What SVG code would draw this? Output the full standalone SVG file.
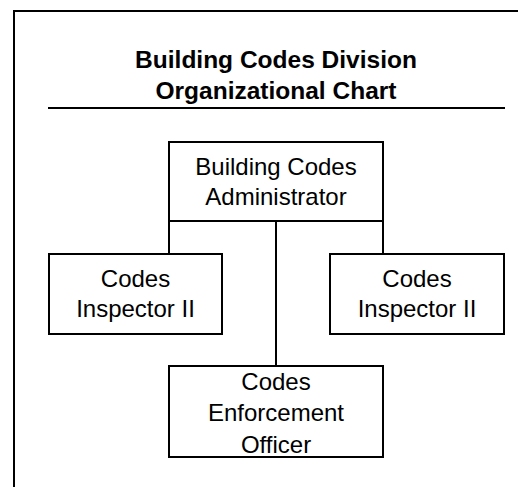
<svg xmlns="http://www.w3.org/2000/svg" width="518" height="487" viewBox="0 0 518 487">
<style>
.box{fill:#fff;stroke:#000;stroke-width:2}
.ln{stroke:#000;stroke-width:2;fill:none}
.t{font-family:"Liberation Sans",Arial,sans-serif;font-size:24px;fill:#000;text-anchor:middle}
.h{font-family:"Liberation Sans",Arial,sans-serif;font-size:24.5px;font-weight:bold;fill:#000;text-anchor:middle}
</style>
<rect width="518" height="487" fill="#fff"/>
<rect x="14" y="11" width="520" height="490" class="ln"/>
<g id="title">
<text class="h" x="276" y="68">Building Codes Division</text>
<text class="h" x="276" y="99">Organizational Chart</text>
<line x1="48" y1="108" x2="505" y2="108" class="ln"/>
</g>
<g id="connectors">
<line x1="169" y1="221" x2="169" y2="254" class="ln"/>
<line x1="383" y1="221" x2="383" y2="254" class="ln"/>
<line x1="276" y1="221" x2="276" y2="366" class="ln"/>
</g>
<g id="admin">
<rect x="169" y="142" width="214" height="79" class="box"/>
<text class="t" x="276" y="175">Building Codes</text>
<text class="t" x="276" y="205">Administrator</text>
</g>
<g id="inspector-left">
<rect x="49" y="254" width="173" height="80" class="box"/>
<text class="t" x="135.5" y="287">Codes</text>
<text class="t" x="135.5" y="317">Inspector II</text>
</g>
<g id="inspector-right">
<rect x="330" y="254" width="174" height="80" class="box"/>
<text class="t" x="417" y="287">Codes</text>
<text class="t" x="417" y="317">Inspector II</text>
</g>
<g id="enforcement">
<rect x="169" y="366" width="214" height="91" class="box"/>
<text class="t" x="276" y="390">Codes</text>
<text class="t" x="276" y="421">Enforcement</text>
<text class="t" x="276" y="453">Officer</text>
</g>
</svg>
